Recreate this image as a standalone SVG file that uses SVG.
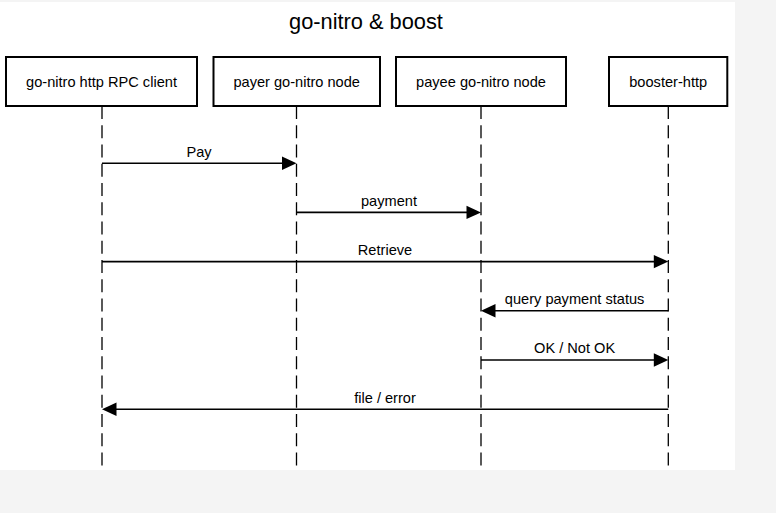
<svg xmlns="http://www.w3.org/2000/svg" width="776" height="513" viewBox="0 0 776 513">
<style>
  .bg { fill: #f4f4f4; }
  .paper { fill: #ffffff; }
  .actor rect { fill: #ffffff; stroke: #000000; stroke-width: 2; }
  .actor text { font-family: "Liberation Sans", Arial, sans-serif; font-size: 14.6px; fill: #000000; text-anchor: middle; }
  .life { stroke: #000000; stroke-width: 1.3; stroke-dasharray: 13 6.25; fill: none; }
  .msg line { stroke: #000000; stroke-width: 1.6; }
  .msg polygon { fill: #000000; stroke: none; }
  .msg text { font-family: "Liberation Sans", Arial, sans-serif; font-size: 14.6px; fill: #000000; text-anchor: middle; }
  .title { font-family: "Liberation Sans", Arial, sans-serif; font-size: 21.8px; fill: #000000; text-anchor: middle; }
</style>
<rect class="bg" x="0" y="0" width="776" height="513"/>
<rect class="paper" x="0" y="2" width="735" height="468"/>
<text class="title" x="366" y="29">go-nitro &amp; boost</text>

<g id="lifelines">
  <line class="life" x1="102" y1="106" x2="102" y2="468"/>
  <line class="life" x1="296.5" y1="106" x2="296.5" y2="468"/>
  <line class="life" x1="481" y1="106" x2="481" y2="468"/>
  <line class="life" x1="668.3" y1="106" x2="668.3" y2="468"/>
</g>

<g id="client" class="actor">
  <rect x="6" y="57" width="191" height="49"/>
  <text x="101.5" y="87">go-nitro http RPC client</text>
</g>
<g id="payer" class="actor">
  <rect x="213.5" y="57" width="166.5" height="49"/>
  <text x="296.7" y="87">payer go-nitro node</text>
</g>
<g id="payee" class="actor">
  <rect x="396" y="57" width="170" height="49"/>
  <text x="481" y="87">payee go-nitro node</text>
</g>
<g id="booster" class="actor">
  <rect x="609" y="57" width="118.3" height="49"/>
  <text x="668.2" y="87">booster-http</text>
</g>

<g id="connectors" class="msg">
  <line x1="102" y1="163.2" x2="284" y2="163.2"/>
  <polygon points="296.5,163.2 282,156.5 282,169.9"/>
  <text x="199" y="156.5">Pay</text>

  <line x1="296.5" y1="212.4" x2="469" y2="212.4"/>
  <polygon points="481,212.4 466.5,205.7 466.5,219.1"/>
  <text x="389" y="205.7">payment</text>

  <line x1="102" y1="261.6" x2="656" y2="261.6"/>
  <polygon points="668.3,261.6 653.8,254.9 653.8,268.3"/>
  <text x="385" y="254.9">Retrieve</text>

  <line x1="668.3" y1="310.8" x2="493" y2="310.8"/>
  <polygon points="481,310.8 495.5,304.1 495.5,317.5"/>
  <text x="574.6" y="304.1">query payment status</text>

  <line x1="481" y1="360" x2="656" y2="360"/>
  <polygon points="668.3,360 653.8,353.3 653.8,366.7"/>
  <text x="574.6" y="353.3">OK / Not OK</text>

  <line x1="668.3" y1="409.2" x2="114" y2="409.2"/>
  <polygon points="102,409.2 116.5,402.5 116.5,415.9"/>
  <text x="385" y="402.5">file / error</text>
</g>
</svg>
